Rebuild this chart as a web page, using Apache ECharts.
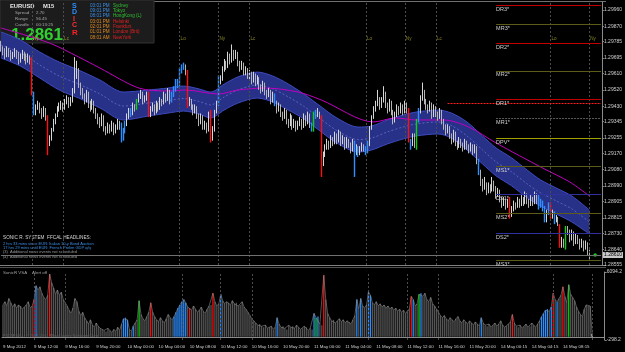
<!DOCTYPE html>
<html lang="en">
<head>
<meta charset="UTF-8">
<title>EURUSD M15</title>
<script src="https://cdn.jsdelivr.net/npm/echarts@6/dist/echarts.min.js"></script>
<style>
    *{margin:0;padding:0}
    body{background:#000}
    .container{width:625px;height:352px}
</style>
</head>
<body>
<div class="container"></div>
<script>
// time axis labels, one every 16 bars (4 hours of M15)
const timeLabels = ['9 May 2012','9 May 12:00','9 May 16:00','9 May 20:00','10 May 00:00','10 May 04:00','10 May 08:00','10 May 12:00','10 May 16:00','10 May 20:00','11 May 00:00','11 May 04:00','11 May 08:00','11 May 12:00','11 May 16:00','11 May 20:00','14 May 00:15','14 May 04:15','14 May 08:15']
const priceTicks = [1.2996,1.2987,1.29785,1.29695,1.2961,1.2952,1.2943,1.29345,1.29255,1.2917,1.2908,1.2899,1.28905,1.28815,1.2873,1.2864,1.28555]
const volTicks = [6094.2,-298.2]

const opens = [1.2977,1.2975,1.2973,1.2971,1.2974,1.2972,1.2970,1.2971,1.2973,1.2971,1.2968,1.2970,1.2972,1.2970,1.2968,1.2970,
1.2968,1.2950,1.2940,1.2942,1.2944,1.2940,1.2938,1.2941,1.2937,1.2923,1.2925,1.2930,1.2934,1.2938,1.2941,1.2943,
1.2944,1.2942,1.2945,1.2947,1.2944,1.2946,1.2951,1.2960,1.2963,1.2955,1.2951,1.2949,1.2946,1.2950,1.2944,1.2942,
1.2945,1.2941,1.2938,1.2935,1.2933,1.2937,1.2931,1.2929,1.2932,1.2930,1.2933,1.2929,1.2931,1.2934,1.2932,1.2925,
1.2929,1.2933,1.2937,1.2940,1.2939,1.2943,1.2942,1.2946,1.2948,1.2950,1.2946,1.2947,1.2949,1.2938,1.2941,1.2943,
1.2940,1.2944,1.2942,1.2946,1.2945,1.2949,1.2947,1.2951,1.2946,1.2949,1.2952,1.2956,1.2955,1.2962,1.2964,1.2965,
1.2962,1.2944,1.2946,1.2943,1.2940,1.2942,1.2938,1.2934,1.2937,1.2932,1.2933,1.2930,1.2939,1.2925,1.2930,1.2940,
1.2944,1.2957,1.2958,1.2963,1.2967,1.2965,1.2971,1.2968,1.2973,1.2970,1.2972,1.2967,1.2964,1.2966,1.2962,1.2963,
1.2960,1.2961,1.2957,1.2960,1.2956,1.2958,1.2954,1.2952,1.2955,1.2951,1.2949,1.2951,1.2946,1.2949,1.2945,1.2941,
1.2943,1.2939,1.2937,1.2940,1.2935,1.2933,1.2937,1.2932,1.2934,1.2931,1.2933,1.2935,1.2932,1.2937,1.2934,1.2938,
1.2933,1.2930,1.2939,1.2938,1.2939,1.2937,1.2913,1.2916,1.2920,1.2923,1.2921,1.2925,1.2923,1.2927,1.2924,1.2928,
1.2923,1.2925,1.2921,1.2924,1.2922,1.2919,1.2923,1.2918,1.2920,1.2917,1.2919,1.2921,1.2920,1.2918,1.2922,1.2931,
1.2937,1.2941,1.2944,1.2947,1.2943,1.2946,1.2950,1.2944,1.2941,1.2945,1.2940,1.2935,1.2938,1.2942,1.2940,1.2943,
1.2940,1.2944,1.2941,1.2924,1.2922,1.2927,1.2922,1.2935,1.2940,1.2947,1.2951,1.2946,1.2943,1.2941,1.2944,1.2938,
1.2942,1.2939,1.2937,1.2940,1.2935,1.2932,1.2929,1.2931,1.2927,1.2924,1.2928,1.2923,1.2921,1.2924,1.2922,1.2920,
1.2923,1.2921,1.2919,1.2921,1.2918,1.2920,1.2913,1.2907,1.2901,1.2898,1.2900,1.2896,1.2899,1.2897,1.2901,1.2898,
1.2894,1.2896,1.2892,1.2889,1.2891,1.2888,1.2892,1.2883,1.2886,1.2889,1.2888,1.2891,1.2889,1.2892,1.2890,1.2894,
1.2891,1.2889,1.2892,1.2890,1.2894,1.2891,1.2888,1.2890,1.2887,1.2880,1.2884,1.2888,1.2882,1.2884,1.2880,1.2881,
1.2877,1.2866,1.2869,1.2866,1.2876,1.2874,1.2870,1.2873,1.2868,1.2871,1.2869,1.2866,1.2868,1.2865,1.2867,1.2863]
const closes = [1.2975,1.2973,1.2971,1.2974,1.2972,1.2970,1.2971,1.2973,1.2971,1.2968,1.2970,1.2972,1.2970,1.2968,1.2970,1.2968,
1.2950,1.2940,1.2942,1.2944,1.2940,1.2938,1.2941,1.2937,1.2923,1.2925,1.2930,1.2934,1.2938,1.2941,1.2943,1.2944,
1.2942,1.2945,1.2947,1.2944,1.2946,1.2951,1.2960,1.2963,1.2955,1.2951,1.2949,1.2946,1.2950,1.2944,1.2942,1.2945,
1.2941,1.2938,1.2935,1.2933,1.2937,1.2931,1.2929,1.2932,1.2930,1.2933,1.2929,1.2931,1.2934,1.2932,1.2925,1.2929,
1.2933,1.2937,1.2940,1.2939,1.2943,1.2942,1.2946,1.2948,1.2950,1.2946,1.2947,1.2949,1.2938,1.2941,1.2943,1.2940,
1.2944,1.2942,1.2946,1.2945,1.2949,1.2947,1.2951,1.2946,1.2949,1.2952,1.2956,1.2955,1.2962,1.2964,1.2965,1.2962,
1.2944,1.2946,1.2943,1.2940,1.2942,1.2938,1.2934,1.2937,1.2932,1.2933,1.2930,1.2939,1.2925,1.2930,1.2940,1.2944,
1.2957,1.2958,1.2963,1.2967,1.2965,1.2971,1.2968,1.2973,1.2970,1.2972,1.2967,1.2964,1.2966,1.2962,1.2963,1.2960,
1.2961,1.2957,1.2960,1.2956,1.2958,1.2954,1.2952,1.2955,1.2951,1.2949,1.2951,1.2946,1.2949,1.2945,1.2941,1.2943,
1.2939,1.2937,1.2940,1.2935,1.2933,1.2937,1.2932,1.2934,1.2931,1.2933,1.2935,1.2932,1.2937,1.2934,1.2938,1.2933,
1.2930,1.2939,1.2938,1.2939,1.2937,1.2913,1.2916,1.2920,1.2923,1.2921,1.2925,1.2923,1.2927,1.2924,1.2928,1.2923,
1.2925,1.2921,1.2924,1.2922,1.2919,1.2923,1.2918,1.2920,1.2917,1.2919,1.2921,1.2920,1.2918,1.2922,1.2931,1.2937,
1.2941,1.2944,1.2947,1.2943,1.2946,1.2950,1.2944,1.2941,1.2945,1.2940,1.2935,1.2938,1.2942,1.2940,1.2943,1.2940,
1.2944,1.2941,1.2924,1.2922,1.2927,1.2922,1.2935,1.2940,1.2947,1.2951,1.2946,1.2943,1.2941,1.2944,1.2938,1.2942,
1.2939,1.2937,1.2940,1.2935,1.2932,1.2929,1.2931,1.2927,1.2924,1.2928,1.2923,1.2921,1.2924,1.2922,1.2920,1.2923,
1.2921,1.2919,1.2921,1.2918,1.2920,1.2913,1.2907,1.2901,1.2898,1.2900,1.2896,1.2899,1.2897,1.2901,1.2898,1.2894,
1.2896,1.2892,1.2889,1.2891,1.2888,1.2890,1.2883,1.2886,1.2889,1.2888,1.2891,1.2889,1.2892,1.2890,1.2894,1.2891,
1.2889,1.2892,1.2890,1.2894,1.2891,1.2888,1.2890,1.2887,1.2880,1.2884,1.2888,1.2882,1.2884,1.2880,1.2881,1.2879,
1.2866,1.2869,1.2866,1.2876,1.2874,1.2870,1.2873,1.2868,1.2871,1.2869,1.2866,1.2868,1.2865,1.2867,1.2863,1.2861]
const highs = [1.2979,1.2976,1.2975,1.2976,1.2975,1.2974,1.2973,1.2975,1.2974,1.2973,1.2972,1.2974,1.2973,1.2972,1.2972,1.2971,
1.2970,1.2951,1.2944,1.2946,1.2945,1.2942,1.2943,1.2942,1.2938,1.2927,1.2931,1.2936,1.2939,1.2943,1.2945,1.2946,
1.2945,1.2947,1.2949,1.2948,1.2948,1.2953,1.2970,1.2968,1.2964,1.2956,1.2953,1.2950,1.2952,1.2951,1.2946,1.2947,
1.2946,1.2942,1.2939,1.2937,1.2939,1.2938,1.2932,1.2934,1.2933,1.2935,1.2934,1.2933,1.2936,1.2935,1.2934,1.2931,
1.2935,1.2939,1.2942,1.2942,1.2945,1.2944,1.2947,1.2950,1.2952,1.2951,1.2949,1.2951,1.2951,1.2943,1.2945,1.2944,
1.2946,1.2945,1.2948,1.2947,1.2951,1.2950,1.2953,1.2952,1.2951,1.2954,1.2958,1.2958,1.2964,1.2966,1.2967,1.2966,
1.2963,1.2948,1.2947,1.2944,1.2944,1.2943,1.2939,1.2939,1.2938,1.2935,1.2934,1.2940,1.2941,1.2932,1.2941,1.2946,
1.2960,1.2960,1.2965,1.2969,1.2968,1.2973,1.2972,1.2977,1.2974,1.2974,1.2973,1.2968,1.2968,1.2967,1.2965,1.2964,
1.2963,1.2962,1.2962,1.2961,1.2960,1.2959,1.2955,1.2957,1.2956,1.2952,1.2953,1.2952,1.2951,1.2950,1.2946,1.2945,
1.2944,1.2940,1.2942,1.2941,1.2936,1.2939,1.2938,1.2936,1.2935,1.2935,1.2937,1.2936,1.2939,1.2938,1.2940,1.2939,
1.2934,1.2940,1.2941,1.2942,1.2940,1.2938,1.2918,1.2922,1.2925,1.2924,1.2927,1.2926,1.2929,1.2928,1.2930,1.2929,
1.2927,1.2926,1.2926,1.2925,1.2923,1.2925,1.2924,1.2922,1.2921,1.2921,1.2923,1.2922,1.2921,1.2924,1.2932,1.2938,
1.2943,1.2946,1.2952,1.2948,1.2948,1.2954,1.2951,1.2945,1.2947,1.2946,1.2941,1.2940,1.2944,1.2943,1.2945,1.2944,
1.2946,1.2945,1.2942,1.2925,1.2928,1.2928,1.2936,1.2942,1.2949,1.2956,1.2952,1.2947,1.2944,1.2946,1.2945,1.2944,
1.2943,1.2940,1.2942,1.2941,1.2936,1.2933,1.2933,1.2932,1.2928,1.2930,1.2929,1.2924,1.2926,1.2925,1.2923,1.2925,
1.2924,1.2922,1.2923,1.2922,1.2922,1.2921,1.2914,1.2908,1.2903,1.2904,1.2901,1.2901,1.2900,1.2904,1.2902,1.2899,
1.2898,1.2897,1.2893,1.2893,1.2892,1.2892,1.2893,1.2888,1.2891,1.2890,1.2893,1.2892,1.2894,1.2893,1.2896,1.2895,
1.2892,1.2894,1.2893,1.2896,1.2895,1.2894,1.2892,1.2891,1.2888,1.2886,1.2890,1.2890,1.2886,1.2885,1.2883,1.2882,
1.2878,1.2871,1.2870,1.2877,1.2877,1.2875,1.2875,1.2874,1.2873,1.2872,1.2870,1.2870,1.2869,1.2869,1.2868,1.2864]
const lows = [1.2973,1.2971,1.2969,1.2970,1.2970,1.2968,1.2969,1.2970,1.2969,1.2966,1.2967,1.2969,1.2968,1.2966,1.2967,1.2966,
1.2949,1.2938,1.2938,1.2941,1.2939,1.2936,1.2937,1.2935,1.2916,1.2921,1.2924,1.2929,1.2933,1.2937,1.2940,1.2941,
1.2940,1.2941,1.2944,1.2942,1.2943,1.2945,1.2950,1.2958,1.2953,1.2949,1.2947,1.2944,1.2945,1.2942,1.2940,1.2941,
1.2939,1.2936,1.2933,1.2931,1.2932,1.2929,1.2927,1.2928,1.2928,1.2929,1.2927,1.2928,1.2930,1.2930,1.2923,1.2924,
1.2928,1.2932,1.2936,1.2937,1.2938,1.2940,1.2941,1.2945,1.2947,1.2944,1.2945,1.2946,1.2937,1.2937,1.2940,1.2938,
1.2939,1.2940,1.2941,1.2943,1.2944,1.2945,1.2946,1.2944,1.2945,1.2948,1.2951,1.2953,1.2954,1.2961,1.2963,1.2960,
1.2942,1.2943,1.2941,1.2938,1.2939,1.2936,1.2932,1.2933,1.2930,1.2930,1.2928,1.2929,1.2923,1.2924,1.2929,1.2939,
1.2943,1.2955,1.2957,1.2962,1.2963,1.2964,1.2966,1.2967,1.2968,1.2969,1.2965,1.2962,1.2963,1.2960,1.2960,1.2958,
1.2958,1.2955,1.2956,1.2954,1.2955,1.2952,1.2950,1.2951,1.2949,1.2947,1.2948,1.2944,1.2945,1.2943,1.2939,1.2940,
1.2937,1.2935,1.2936,1.2933,1.2931,1.2932,1.2930,1.2931,1.2929,1.2930,1.2932,1.2930,1.2931,1.2932,1.2933,1.2931,
1.2929,1.2929,1.2936,1.2937,1.2936,1.2904,1.2910,1.2915,1.2919,1.2919,1.2920,1.2921,1.2922,1.2922,1.2923,1.2921,
1.2922,1.2919,1.2920,1.2920,1.2917,1.2918,1.2904,1.2916,1.2915,1.2916,1.2918,1.2918,1.2916,1.2917,1.2921,1.2930,
1.2936,1.2940,1.2943,1.2941,1.2942,1.2945,1.2942,1.2939,1.2940,1.2938,1.2933,1.2934,1.2937,1.2938,1.2939,1.2938,
1.2939,1.2939,1.2923,1.2919,1.2921,1.2920,1.2919,1.2934,1.2939,1.2946,1.2944,1.2941,1.2939,1.2940,1.2936,1.2937,
1.2937,1.2935,1.2936,1.2933,1.2930,1.2927,1.2928,1.2925,1.2922,1.2923,1.2921,1.2919,1.2920,1.2920,1.2918,1.2919,
1.2919,1.2917,1.2918,1.2916,1.2917,1.2911,1.2905,1.2899,1.2896,1.2897,1.2894,1.2895,1.2895,1.2896,1.2896,1.2892,
1.2893,1.2890,1.2887,1.2888,1.2886,1.2887,1.2881,1.2882,1.2885,1.2886,1.2887,1.2887,1.2888,1.2888,1.2889,1.2889,
1.2887,1.2888,1.2888,1.2889,1.2889,1.2886,1.2887,1.2885,1.2879,1.2879,1.2883,1.2881,1.2881,1.2878,1.2879,1.2877,
1.2865,1.2865,1.2865,1.2864,1.2872,1.2868,1.2869,1.2866,1.2867,1.2867,1.2864,1.2865,1.2863,1.2864,1.2861,1.2858]

// tick volume per bar
const volumes = [3000,3300,2900,3600,3200,2800,3100,2700,3000,2900,2600,2800,3000,3300,2700,2900,
3500,4800,4400,4700,4100,3700,3500,3900,5900,5100,4600,4000,4400,3900,4200,3500,
3200,2900,2500,2200,2700,3600,3300,2400,2000,2300,1800,1500,1200,1600,1100,900,
1300,1000,800,700,600,500,800,600,400,700,500,900,600,1200,1700,1800,
1600,700,500,1000,1300,1600,3400,2100,1700,1500,1900,2300,3200,2300,1900,1600,
1400,1800,1500,1300,1700,2100,1800,1600,1900,2300,2700,3000,3300,3500,3200,2800,
2700,2500,2900,2600,2300,2500,2800,2400,2200,2600,2900,3000,4100,3300,2900,3100,
4000,3400,3100,3300,3200,3000,3400,3100,3200,2900,3000,3300,2800,2600,2300,2000,
1700,1500,1300,1100,1200,1000,900,1100,800,900,1000,700,900,1800,1200,900,
1000,800,700,1100,900,1000,800,1100,900,700,800,1000,900,600,800,700,
2200,1800,1900,1200,1100,5800,3500,2200,1800,1500,1600,1300,1500,1700,1400,1600,
1300,1500,1400,1200,1600,2000,3500,2600,3600,2900,2700,3000,4200,3900,3200,3000,
3300,2900,3100,2800,3000,2700,2900,2600,2800,2500,2700,2400,2600,2300,2500,2200,
2400,2600,3800,3500,2900,3100,4000,4100,3800,4100,3500,3300,3700,3100,2900,2600,
2300,2000,1800,2000,1700,1500,1800,1600,1400,1700,1900,1500,1300,1600,1400,1200,
1500,1300,1100,1400,1200,1000,1800,1300,1100,1000,1200,900,1100,1300,1000,1200,
1500,1100,900,1000,1200,1400,2100,1300,1000,900,1100,800,1000,1200,900,1000,
1300,1100,900,1200,1500,1900,2200,2500,2600,2400,2800,4100,3500,3300,3600,3900,
4700,3800,3200,4900,4000,3700,3400,2800,2400,2100,1900,2600,3000,2900,2900,300]

// VSA coloured bars (index of bar)
const redBars = [16,24,76,96,108,165,210,262,283,288]
const blueBars = [17,62,63,64,67,88,89,90,91,92,93,94,112,141,160,162,182,184,188,189,211,215,246,277,278,279,280,282,285]
const greenBars = [70,161,214,291]

// Sonic R dragon band, read at these bars
const bandIdx = [0,10,20,30,40,51,63,76,86,94,102,108,115,122,132,140,148,156,163,173,184,191,199,207,214,225,232,240,248,255,263,271,278,286,294,303]
const bandTop = [1.29839,1.29795,1.29728,1.29673,1.29629,1.29574,1.29508,1.29519,1.29530,1.29541,1.29525,1.29508,1.29552,1.29591,1.29618,1.29596,1.29552,1.29497,1.29442,1.29365,1.29315,1.29321,1.29354,1.29381,1.29398,1.29409,1.29392,1.29343,1.29266,1.29200,1.29145,1.29078,1.29023,1.28979,1.28935,1.28858]
const bandMid = [1.29767,1.29723,1.29657,1.29596,1.29552,1.29497,1.29431,1.29448,1.29461,1.29472,1.29456,1.29437,1.29481,1.29519,1.29547,1.29525,1.29481,1.29429,1.29373,1.29296,1.29246,1.29255,1.29288,1.29315,1.29332,1.29343,1.29323,1.29266,1.29189,1.29123,1.29068,1.29002,1.28952,1.28908,1.28864,1.28792]
const bandBottom = [1.29695,1.29651,1.29585,1.29519,1.29475,1.29420,1.29354,1.29376,1.29392,1.29403,1.29387,1.29365,1.29409,1.29447,1.29475,1.29453,1.29409,1.29360,1.29304,1.29227,1.29177,1.29189,1.29222,1.29249,1.29266,1.29277,1.29254,1.29189,1.29112,1.29046,1.28991,1.28925,1.28880,1.28836,1.28792,1.28726]

// slow EMA (magenta)
const emaIdx = [0,25,40,51,71,86,95,112,122,136,153,165,192,203,214,228,241,255,279,293,303]
const emaVal = [1.29861,1.29778,1.29701,1.29640,1.29530,1.29514,1.29519,1.29497,1.29519,1.29530,1.29508,1.29464,1.29343,1.29365,1.29354,1.29354,1.29315,1.29227,1.29089,1.29012,1.28935]

// pivot levels
const pivotNames = ['DR3*','MR3*','DR2*','MR2*','DR1*','RDH','MR1*','DPV*','MS1*','DS1*','MS2*','DS2*','MS3*']
const pivotPrices = [1.29987,1.29881,1.29776,1.29624,1.29468,1.29446,1.29363,1.29253,1.29100,1.28944,1.28840,1.28729,1.28579]
const bidPrice = 1.2861

// session markers
const sessionIdx = [16,32,92,112,128,188,208,224,283,303]
const sessionNames = ['Ny','Lc','Lo','Ny','Lc','Lo','Ny','Lc','Lo','Ny']

const N = 310
const F = 'Liberation Sans'
let container = document.querySelector('.container')
let chart = echarts.init(container)

let cats = []
for (let i = 0; i < N; i++) {
    cats.push(i % 16 === 0 && i / 16 < timeLabels.length ? timeLabels[i / 16] : '')
}
function showLabel(i) {
    return i % 16 === 0 && i / 16 < timeLabels.length
}
function vsaColor(i) {
    if (redBars.includes(i)) return '#ff1010'
    if (blueBars.includes(i)) return '#2f8fff'
    if (greenBars.includes(i)) return '#10d010'
    return null
}

let candles = opens.map((o, i) => {
    let c = vsaColor(i)
    let item = {value: [o, closes[i], lows[i], highs[i]]}
    if (c) item.itemStyle = {color: c, color0: c, borderColor: c, borderColor0: c, borderWidth: 1.4}
    return item
})
let vols = volumes.map((v, i) => {
    let c = vsaColor(i)
    if (i === volumes.length - 1) c = '#ffffff'
    return c ? {value: v, itemStyle: {color: c}} : v
})

function pivotStyle(name) {
    if (name === 'RDH') return {color: '#ff2020', type: [2, 1], width: 1}
    if (name === 'DPV*') return {color: '#a0a000', type: 'solid', width: 1}
    if (name === 'MR1*') return {color: '#5a5a5a', type: [2, 1], width: 1}
    if (name[0] === 'D' && name[1] === 'R') return {color: '#c00000', type: 'solid', width: 1}
    if (name[0] === 'D' && name[1] === 'S') return {color: '#30309c', type: 'solid', width: 1}
    return {color: '#5c5c18', type: 'solid', width: 1}
}
let pivotLines = pivotNames.map((name, k) => [
    {coord: [name === 'RDH' ? 230 : 255, pivotPrices[k]], lineStyle: pivotStyle(name),
     label: {show: name !== 'RDH', formatter: name}},
    {coord: [N - 1, pivotPrices[k]]}
])
pivotLines.push([
    {coord: [0, bidPrice], lineStyle: {color: '#707070', type: 'solid', width: 1},
     label: {show: true, position: 'end', formatter: bidPrice.toFixed(5), distance: 2,
        color: '#000', backgroundColor: '#c8c8c8', padding: [1, 1, 0, 1], fontSize: 5, fontFamily: F}},
    {coord: [N - 1, bidPrice]}
])

const pair = (idx, vals) => idx.map((x, k) => [x, vals[k]])
const txt = (x, y, text, fill, font) => ({type: 'text', x, y, style: {text, fill, font: font + ' ' + F, textVerticalAlign: 'middle'}})

let option = {
    backgroundColor: '#000',
    animation: false,
    grid: [
        {left: 0, right: 19, top: 2, height: 263},
        {left: 0, right: 19, top: 272, height: 68}
    ],
    xAxis: [
        {type: 'category', gridIndex: 0, data: cats, boundaryGap: true, show: false},
        {type: 'category', gridIndex: 1, data: cats, boundaryGap: true, offset: 3,
         axisLine: {lineStyle: {color: '#8a8a8a'}},
         axisTick: {interval: showLabel, alignWithLabel: true, length: 2, lineStyle: {color: '#8a8a8a'}},
         axisLabel: {interval: showLabel, align: 'left', fontSize: 4.4, color: '#d0d0d0', margin: 2, fontFamily: F}}
    ],
    yAxis: [
        {type: 'value', gridIndex: 0, position: 'right', min: 1.28555, max: 1.30004,
         splitLine: {show: false},
         axisLine: {show: true, lineStyle: {color: '#8a8a8a'}},
         axisTick: {show: true, length: 2, customValues: priceTicks, lineStyle: {color: '#8a8a8a'}},
         axisLabel: {customValues: priceTicks, formatter: v => v.toFixed(5), fontSize: 5, color: '#d0d0d0', margin: 2, fontFamily: F}},
        {type: 'value', gridIndex: 1, position: 'right', min: -298.2, max: 6094.2,
         splitLine: {show: false},
         axisLine: {show: true, lineStyle: {color: '#8a8a8a'}},
         axisTick: {show: true, length: 2, customValues: volTicks, lineStyle: {color: '#8a8a8a'}},
         axisLabel: {customValues: volTicks, formatter: v => v.toFixed(1), fontSize: 5, color: '#d0d0d0', margin: 2, fontFamily: F}}
    ],
    series: [
        {type: 'line', name: 'bandLow', data: pair(bandIdx, bandBottom), stack: 'band', smooth: 0.3,
         symbol: 'none', z: 1, lineStyle: {color: '#3d4ac0', width: 1},
         markLine: {silent: true, symbol: ['none', 'none'], label: {show: false},
            lineStyle: {color: '#4c4c4c', type: [2, 2], width: 1},
            data: sessionIdx.map(i => ({xAxis: i}))}},
        {type: 'line', name: 'bandHigh', data: bandIdx.map((x, k) => [x, bandTop[k] - bandBottom[k]]), stack: 'band', smooth: 0.3,
         symbol: 'none', z: 1, lineStyle: {color: '#3d4ac0', width: 1},
         areaStyle: {color: '#283188', opacity: 1}},
        {type: 'line', name: 'bandMid', data: pair(bandIdx, bandMid), smooth: 0.3,
         symbol: 'none', z: 1, lineStyle: {color: '#7078d8', width: 0.7, type: [2, 2]}},
        {type: 'line', name: 'ema', data: pair(emaIdx, emaVal), smooth: 0.3,
         symbol: 'none', z: 2, lineStyle: {color: '#c000c0', width: 1}},
        {type: 'candlestick', name: 'price', data: candles, barWidth: 1.2, z: 3,
         itemStyle: {color: '#f2f2f2', color0: '#b4b4b4', borderColor: '#d6d6d6', borderColor0: '#b4b4b4', borderWidth: 1},
         markLine: {silent: true, symbol: ['none', 'none'], precision: 5,
            label: {position: 'insideStartBottom', distance: [0, 1], color: '#d0d0d0', fontSize: 5.5, fontFamily: F},
            data: pivotLines}},
        {type: 'scatter', name: 'sessions', data: sessionIdx.map(i => [i, 1.2980]), symbolSize: 0, z: 2,
         label: {show: true, position: 'right', distance: 1, formatter: p => sessionNames[p.dataIndex],
            color: '#a8a830', fontSize: 4.6, fontFamily: F}},
        {type: 'scatter', name: 'tick', data: [[306, bidPrice]], symbolSize: 3.5, z: 4,
         itemStyle: {color: '#20ff20'}},
        {type: 'bar', name: 'volume', xAxisIndex: 1, yAxisIndex: 1, data: vols, barWidth: 1.3, z: 2,
         itemStyle: {color: '#555555'},
         markLine: {silent: true, symbol: ['none', 'none'], label: {show: false},
            lineStyle: {color: '#4c4c4c', type: [2, 2], width: 1},
            data: sessionIdx.map(i => ({xAxis: i}))}},
        {type: 'line', name: 'volTop', xAxisIndex: 1, yAxisIndex: 1, data: volumes, symbol: 'none', z: 3,
         lineStyle: {color: '#8c8c8c', width: 0.6}}
    ],
    graphic: [
        // chart frame lines
        {type: 'line', shape: {x1: 0, y1: 1.5, x2: 606, y2: 1.5}, style: {stroke: '#707070', lineWidth: 1}},
        {type: 'line', shape: {x1: 0, y1: 265.5, x2: 606, y2: 265.5}, style: {stroke: '#808080', lineWidth: 1}},
        {type: 'line', shape: {x1: 0, y1: 267.5, x2: 606, y2: 267.5}, style: {stroke: '#505050', lineWidth: 1}},
        // info panel
        {type: 'rect', shape: {x: 0, y: 0, width: 154, height: 43}, style: {fill: '#1c1c1c', stroke: '#333'}},
        txt(10, 6, 'EURUSD', '#e8e8e8', 'bold 5.8px'),
        txt(43, 6, 'M15', '#e8e8e8', 'bold 5.8px'),
        txt(15, 12.5, 'Spread', '#a8a8a8', '4.4px'),
        txt(36, 12.5, '2.70', '#a8a8a8', '4.4px'),
        txt(15, 18.5, 'Range', '#a8a8a8', '4.4px'),
        txt(36, 18.5, '56.45', '#a8a8a8', '4.4px'),
        txt(15, 24.5, 'Candle', '#a8a8a8', '4.4px'),
        txt(36, 24.5, '00:13:25', '#a8a8a8', '4.4px'),
        txt(11, 35.5, '1.2861', '#30d030', 'bold 17px'),
        txt(72, 6, 'S', '#2f8fff', 'bold 7px'),
        txt(72, 12.5, 'D', '#2f8fff', 'bold 7px'),
        txt(73, 19, 'I', '#ff3030', 'bold 7px'),
        txt(72, 25, 'C', '#ff3030', 'bold 7px'),
        txt(72, 33, 'R', '#ff2020', 'bold 8px'),
        {type: 'group', children: ['03:01 PM','09:01 PM','08:01 PM','03:01 PM','02:01 PM','01:01 PM','08:01 AM'].map((t, k) =>
            txt(90, [5.7, 10.7, 15.7, 21.5, 26.7, 32.2, 37.6][k], t, k < 3 ? '#3a8fe8' : '#e08a20', '4.6px'))},
        {type: 'group', children: ['Sydney','Tokyo','HongKong (L)','Helsinki','Frankfurt','London (Brit)','NewYork'].map((t, k) =>
            txt(113, [5.7, 10.7, 15.7, 21.5, 26.7, 32.2, 37.6][k], t, k < 3 ? '#30c030' : '#e02020', '4.6px'))},
        // news headlines
        txt(3, 237.5, 'SONIC R. SYSTEM  FFCAL HEADLINES:', '#d8d8d8', '4.7px'),
        txt(3, 243.5, '2 hrs 33 mins since EUR: Italian 10-y Bond Auction', '#3a8fe8', '4px'),
        txt(3, 247.8, '17 hrs 29 mins until EUR: French Prelim GDP q/q', '#3a8fe8', '4px'),
        txt(3, 252.3, '(3)  Additional news events not scheduled', '#9a9a9a', '4px'),
        txt(3, 256.8, '(4)  Additional news events not scheduled', '#9a9a9a', '4px'),
        // volume panel captions
        txt(3, 272.5, 'SonicR VSA    Alert off', '#a0a0a0', '4.4px'),
        txt(3, 335.5, 'FXCM MT4, \u00a9 2001-2011 MetaQuotes Software Corp.', '#6a6a6a', '4px')
    ]
}

chart.setOption(option)
</script>
</body>
</html>
